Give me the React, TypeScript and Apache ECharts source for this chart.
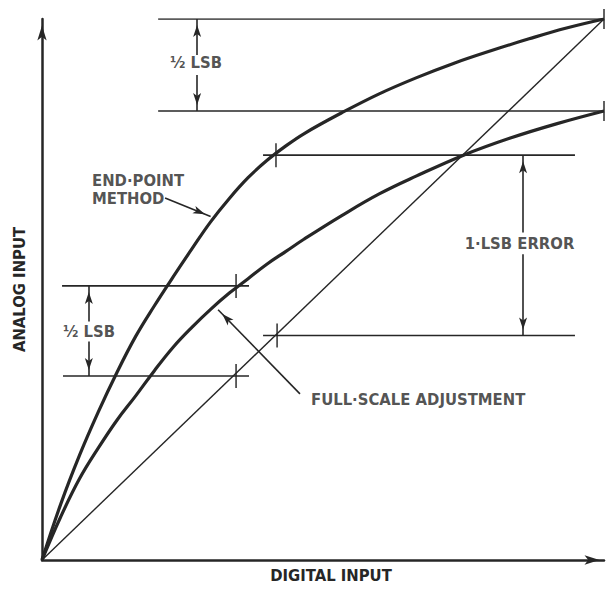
import React, { useEffect, useRef } from "react";
import * as echarts from "echarts";

// ---- data (units: LSB) ----
const IDEAL_X = [0, 3];
const IDEAL_Y = [0, 3];

const EP_X = [0, 0.1, 0.2, 0.3, 0.4, 0.5, 0.6, 0.7, 0.8, 0.9, 1.0, 1.1, 1.2, 1.3, 1.4, 1.6, 1.8, 2.0, 2.2, 2.4, 2.6, 2.8, 3.0];
const EP_Y = [0, 0.31, 0.58, 0.82, 1.04, 1.24, 1.41, 1.57, 1.725, 1.875, 2.005, 2.12, 2.215, 2.295, 2.365, 2.48, 2.585, 2.675, 2.755, 2.825, 2.89, 2.95, 3.0];

const FS_X = [0, 0.1, 0.2, 0.3, 0.4, 0.5, 0.6, 0.7, 0.8, 0.9, 1.0, 1.1, 1.2, 1.3, 1.4, 1.6, 1.8, 2.0, 2.25, 2.5, 2.75, 3.0];
const FS_Y = [0, 0.24, 0.45, 0.62, 0.775, 0.91, 1.05, 1.18, 1.29, 1.39, 1.48, 1.56, 1.64, 1.71, 1.78, 1.91, 2.03, 2.13, 2.245, 2.34, 2.42, 2.49];

const H_LINES_Y = [3.0, 2.49, 2.245, 1.245, 1.52, 1.02];
const H_LINES_X0 = [0.62, 0.62, 1.18, 1.18, 0.107, 0.112];
const H_LINES_X1 = [3.0, 3.0, 2.845, 2.845, 1.105, 1.105];

const ARROW_X = [0.828, 0.828, 2.568, 2.568, 0.25, 0.25];
const ARROW_Y_FROM = [2.8, 2.69, 1.816, 1.695, 1.322, 1.212];
const ARROW_Y_TO = [3.0, 2.49, 2.245, 1.245, 1.52, 1.02];

const CURVE_ARROW_FROM = [
  [0.657, 2.008],
  [1.377, 0.921],
];
const CURVE_ARROW_TO = [
  [0.9, 1.905],
  [0.94, 1.388],
];
const CURVE_ARROW_BEND = [0.25, 0.25];

const TICK_X = [1.249, 1.036, 1.036, 1.255, 3.0, 3.0];
const TICK_Y = [2.245, 1.52, 1.02, 1.245, 3.0, 2.49];
const TICK_LEN = [24, 24, 24, 24, 20, 20];

const LABEL_TEXT = ["½ LSB", "END·POINT\nMETHOD", "1·LSB ERROR", "½ LSB", "FULL·SCALE ADJUSTMENT"];
const LABEL_X = [0.822, 0.267, 2.549, 0.251, 1.436];
const LABEL_Y = [2.759, 2.052, 1.755, 1.267, 0.889];
const LABEL_ALIGN = ["center", "left", "center", "center", "left"];

const X_NAME = "DIGITAL INPUT";
const Y_NAME = "ANALOG INPUT";

const INK = "#262626";
const FONT = "'DejaVu Sans Condensed', 'Liberation Sans Narrow', sans-serif";

const zip = (xs: number[], ys: number[]) => xs.map((x, i) => [x, ys[i]]);

export default function App() {
  const ref = useRef<HTMLDivElement>(null);

  useEffect(() => {
    if (!ref.current) return;
    const chart = echarts.init(ref.current, undefined, { renderer: "svg" });

    const textStyle = {
      fontFamily: FONT,
      fontWeight: "bold" as const,
      fontSize: 16.5,
      color: INK,
    };

    const hLineSeries = H_LINES_Y.map((y, i) => ({
      type: "line",
      data: [
        [H_LINES_X0[i], y],
        [H_LINES_X1[i], y],
      ],
      symbol: "none",
      silent: true,
      lineStyle: { color: INK, width: 1.6 },
      z: 3,
    }));

    const arrowData: any[] = ARROW_X.map((x, i) => [
      { coord: [x, ARROW_Y_FROM[i]] },
      { coord: [x, ARROW_Y_TO[i]] },
    ]);
    CURVE_ARROW_FROM.forEach((p, i) => {
      arrowData.push([
        { coord: p, lineStyle: { curveness: CURVE_ARROW_BEND[i] } },
        { coord: CURVE_ARROW_TO[i] },
      ]);
    });

    const curveSeries = (xs: number[], ys: number[]) => ({
      type: "line",
      data: zip(xs, ys),
      symbol: "none",
      smooth: 0.4,
      silent: true,
      lineStyle: { color: INK, width: 3.2 },
      z: 4,
    });

    const option: any = {
      animation: false,
      backgroundColor: "#ffffff",
      grid: { left: 42, right: 3, top: 19, bottom: 23, containLabel: false },
      xAxis: {
        type: "value",
        min: 0,
        max: 3,
        axisLine: {
          show: true,
          symbol: ["none", "arrow"],
          symbolSize: [7, 15],
          symbolOffset: [0, -4.5],
          lineStyle: { color: INK, width: 2.5 },
        },
        axisTick: { show: false },
        axisLabel: { show: false },
        splitLine: { show: false },
        name: X_NAME,
        nameLocation: "middle",
        nameGap: 7,
        nameTextStyle: { ...textStyle, padding: [0, 0, 0, 16] },
      },
      yAxis: {
        type: "value",
        min: 0,
        max: 3,
        axisLine: {
          show: true,
          symbol: ["none", "arrow"],
          symbolSize: [7, 15],
          symbolOffset: [0, -6.5],
          lineStyle: { color: INK, width: 2.5 },
        },
        axisTick: { show: false },
        axisLabel: { show: false },
        splitLine: { show: false },
        name: Y_NAME,
        nameLocation: "middle",
        nameGap: 14,
        nameTextStyle: { ...textStyle },
      },
      series: [
        {
          type: "line",
          data: zip(IDEAL_X, IDEAL_Y),
          symbol: "none",
          silent: true,
          lineStyle: { color: INK, width: 1.4 },
          z: 2,
          markLine: {
            silent: true,
            animation: false,
            symbol: ["none", "arrow"],
            symbolSize: [6, 12],
            symbolOffset: [0, [0, 6]],
            label: { show: false },
            emphasis: { disabled: true },
            lineStyle: { color: INK, width: 1.6, type: "solid" },
            data: arrowData,
          },
        },
        curveSeries(EP_X, EP_Y),
        curveSeries(FS_X, FS_Y),
        ...hLineSeries,
        {
          type: "scatter",
          silent: true,
          clip: false,
          z: 5,
          data: TICK_X.map((x, i) => ({
            value: [x, TICK_Y[i]],
            symbol: "rect",
            symbolSize: [1.8, TICK_LEN[i]],
          })),
          itemStyle: { color: INK },
        },
        {
          type: "scatter",
          silent: true,
          clip: false,
          z: 6,
          symbolSize: 0,
          data: LABEL_TEXT.map((t, i) => ({
            value: [LABEL_X[i], LABEL_Y[i]],
            name: t,
            label: {
              show: true,
              formatter: t,
              position: LABEL_ALIGN[i] === "left" ? "right" : "inside",
              distance: 0,
              align: LABEL_ALIGN[i],
              verticalAlign: "middle",
              lineHeight: 18,
              ...textStyle,
            },
          })),
        },
      ],
    };

    chart.setOption(option);
    return () => chart.dispose();
  }, []);

  return (
    <div
      ref={ref}
      style={{ position: "absolute", left: 0, top: 0, width: 607, height: 589, background: "#fff" }}
    />
  );
}
